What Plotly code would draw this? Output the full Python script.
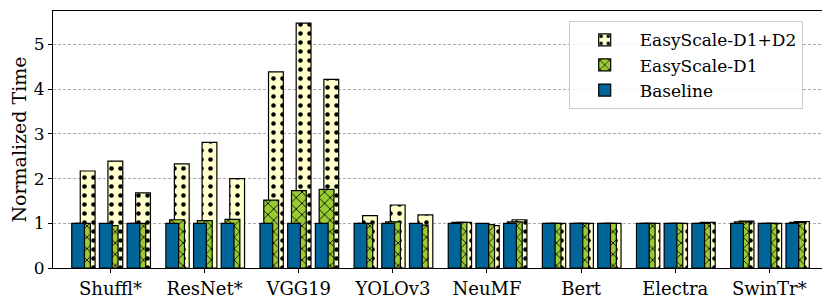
import plotly.graph_objects as go

models = ["Shuffl*", "ResNet*", "VGG19", "YOLOv3", "NeuMF", "Bert", "Electra", "SwinTr*"]
# three configurations per model
baseline = [1.0, 1.0, 1.0,  1.0, 1.0, 1.0,  1.0, 1.0, 1.0,  1.0, 1.0, 1.0,
            1.0, 1.0, 1.0,  1.0, 1.0, 1.0,  1.0, 1.0, 1.0,  1.0, 1.0, 1.0]
d1 = [1.0, 0.95, 1.0,  1.08, 1.06, 1.09,  1.52, 1.73, 1.76,  1.0, 1.03, 0.96,
      1.02, 0.97, 1.03,  1.0, 1.0, 1.0,  1.0, 1.0, 1.0,  1.03, 1.0, 1.02]
d1d2 = [2.17, 2.39, 1.68,  2.33, 2.81, 2.0,  4.39, 5.48, 4.22,  1.17, 1.41, 1.19,
        1.02, 0.95, 1.08,  1.0, 1.0, 1.0,  1.0, 1.0, 1.02,  1.05, 1.0, 1.04]
series_names = ["EasyScale-D1+D2", "EasyScale-D1", "Baseline"]

GROUP = 3.4
base_x = [g * GROUP + s for g in range(len(models)) for s in range(3)]
tick_x = [g * GROUP + 1.17 for g in range(len(models))]

fig = go.Figure()
fig.add_trace(go.Bar(
    x=[v + 0.345 for v in base_x], y=d1d2, width=0.535, name=series_names[0],
    marker=dict(color="#ffffcc", line=dict(color="black", width=1.2),
                pattern=dict(shape=".", fgcolor="black", bgcolor="#ffffcc", size=9, solidity=0.2)),
))
fig.add_trace(go.Bar(
    x=[v + 0.175 for v in base_x], y=d1, width=0.535, name=series_names[1],
    marker=dict(color="#99cc33", line=dict(color="black", width=1.2),
                pattern=dict(shape="x", fgcolor="black", bgcolor="#99cc33", size=8, solidity=0.2)),
))
fig.add_trace(go.Bar(
    x=base_x, y=baseline, width=0.46, name=series_names[2],
    marker=dict(color="#006699", line=dict(color="black", width=1.2)),
))

SERIF = "DejaVu Serif"
fig.update_layout(
    template="none",
    width=822, height=294,
    margin=dict(l=45, r=5, t=3, b=34, autoexpand=False),
    barmode="overlay",
    plot_bgcolor="white", paper_bgcolor="white",
    font=dict(family=SERIF, size=18, color="black"),
    showlegend=True,
    legend=dict(x=0.668, y=0.96, xanchor="left", yanchor="top",
                bgcolor="rgba(255,255,255,0.85)", bordercolor="#cccccc", borderwidth=1,
                font=dict(family=SERIF, size=17, color="black"), traceorder="normal",
                itemwidth=60),
    xaxis=dict(range=[-0.907, 26.98], tickvals=tick_x, ticktext=models,
               showgrid=False, zeroline=False, showline=True, linecolor="black",
               linewidth=1, mirror=True, ticks="outside", ticklen=4, tickcolor="black",
               tickfont=dict(family=SERIF, size=18, color="black"), automargin=False),
    yaxis=dict(range=[0, 5.75], tickvals=[0, 1, 2, 3, 4, 5],
               showgrid=True, gridcolor="#aaaaaa", griddash="3px,2px", gridwidth=0.6,
               zeroline=False, showline=True, linecolor="black", linewidth=1, mirror=True,
               ticks="outside", ticklen=4, tickcolor="black",
               tickfont=dict(family=SERIF, size=17, color="black"), automargin=False,
               title=dict(text="Normalized Time", font=dict(family=SERIF, size=19, color="black"), standoff=8)),
)
fig.write_html("out.html")
